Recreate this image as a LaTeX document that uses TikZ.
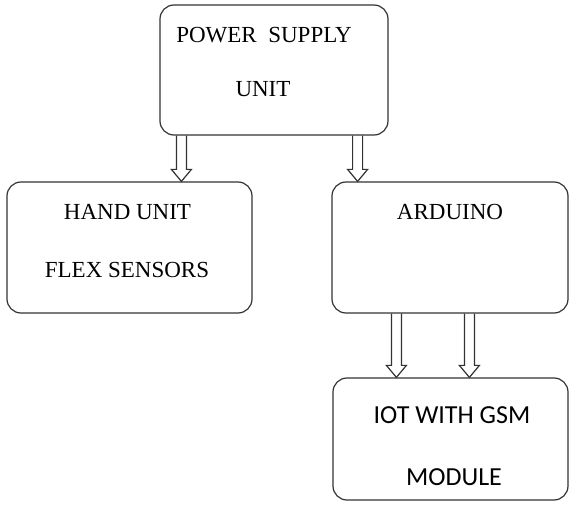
\documentclass[tikz,border=0pt]{standalone}
\usepackage{fontspec}
\setmainfont{Liberation Serif}
\newfontfamily\gsmfont{Carlito}
\usetikzlibrary{calc}

\tikzset{
  blk/.style={draw=black!80, line width=0.6pt, rounded corners=7pt},
  hollow/.style={draw=black!80, line width=0.6pt,
    to path={let \p1=(\tikztostart), \p2=(\tikztotarget) in
      (\x1-2.5pt,\y1) -- (\x1-2.5pt,\y2+6pt) -- (\x1-5pt,\y2+6pt) -- (\x1,\y2)
      -- (\x1+5pt,\y2+6pt) -- (\x1+2.5pt,\y2+6pt) -- (\x1+2.5pt,\y1)}},
  lbl/.style={anchor=base, inner sep=0pt, font=\fontsize{11.5}{13}\selectfont}
}

\begin{document}
\begin{tikzpicture}[x=0.5pt, y=-0.5pt]
      \useasboundingbox (0,0) rectangle (574,508);
      \node (psu) at (274,70) [blk, minimum width=114pt, minimum height=65pt] {};
      \node (psu1) at (264,43) [lbl] {POWER\ \ SUPPLY};
      \node (psu2) at (263,97) [lbl] {UNIT};
      \node (hand) at (129.5,247.5) [blk, minimum width=122.5pt, minimum height=65.5pt] {};
      \node (hand1) at (127.5,220) [lbl] {HAND UNIT};
      \node (hand2) at (127,278) [lbl] {FLEX SENSORS};
      \node (ard) at (450,247.5) [blk, minimum width=118pt, minimum height=65.5pt] {};
      \node (ard1) at (450,220) [lbl] {ARDUINO};
      \node (iot) at (450.5,439) [blk, minimum width=117.5pt, minimum height=61pt] {};
      \node (iot1) at (452,423) [lbl, font=\gsmfont\fontsize{13}{15}\selectfont] {IOT WITH GSM};
      \node (iot2) at (454,485) [lbl, font=\gsmfont\fontsize{13}{15}\selectfont] {MODULE};

      \draw[hollow] ([xshift=11pt]psu.south west) to (hand.north);
      \draw[hollow] ([xshift=-15.5pt]psu.south east) to (ard.north);
      \draw[hollow] ([xshift=32.5pt]ard.south west) to (iot.north);
      \draw[hollow] ([xshift=69pt]ard.south west) to (iot.north);
\end{tikzpicture}
\end{document}
